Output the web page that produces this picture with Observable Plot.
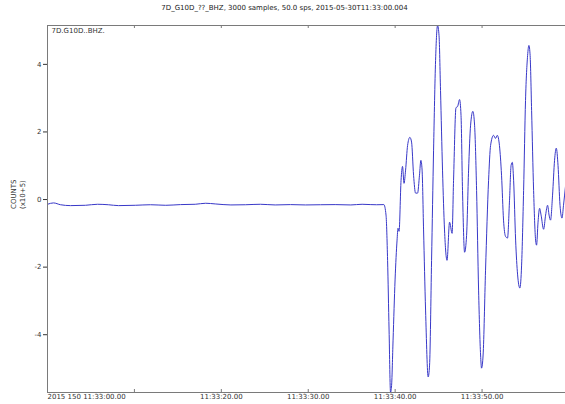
<!DOCTYPE html>
<html>
<head>
<meta charset="utf-8">
<script src="https://cdn.jsdelivr.net/npm/d3@7"></script>
<script src="https://cdn.jsdelivr.net/npm/@observablehq/plot@0.6"></script>
<style>
  html, body { margin: 0; padding: 0; background: #fff; }
  body { width: 565px; height: 404px; overflow: hidden; font-family: "DejaVu Sans", sans-serif; }
  #title { height: 17px; box-sizing: border-box; padding-top: 4px; padding-left: 4px; font-size: 7px; line-height: 9px; text-align: center; color: #222; }
  svg { display: block; }
</style>
</head>
<body>
<div id="title">7D_G10D_??_BHZ, 3000 samples, 50.0 sps, 2015-05-30T11:33:00.004</div>
<div id="chart"></div>
<script>
// seconds after 2015-05-30T11:33:00
const times = [
  0, 0.69, 1.5, 2.65, 4.37, 5.75, 7.0, 8.17, 10.1, 11.85, 13.6, 15.3, 17.0, 18.2, 19.3,
  21.1, 22.8, 24.5, 26.2, 27.96, 29.7, 31.4, 33.1, 34.9, 36.2, 37.2, 37.86, 38.7,
  38.95, 39.13, 39.3, 39.47, 39.59, 39.76, 39.99, 40.22, 40.33, 40.45, 40.68, 40.85,
  41.02, 41.2, 41.43, 41.69, 41.89, 42.12, 42.35, 42.58, 42.8, 42.96, 43.1, 43.27,
  43.5, 43.8, 43.96, 44.19, 44.42, 44.65, 44.88, 45.05, 45.22, 45.45, 45.68, 45.97,
  46.26, 46.55, 46.72, 47.0, 47.18, 47.41, 47.58, 47.75, 47.99, 48.22, 48.45, 48.68,
  48.94, 49.14, 49.37, 49.6, 49.83, 49.94, 50.12, 50.4, 50.75, 50.98, 51.32, 51.55,
  51.75, 52.0, 52.24, 52.47, 52.7, 52.93, 53.16, 53.34, 53.48, 53.63, 53.86, 54.09,
  54.35, 54.55, 54.78, 55.0, 55.24, 55.39, 55.53, 55.7, 55.93, 56.16, 56.27, 56.44,
  56.62, 56.79, 57.08, 57.31, 57.54, 57.71, 57.88, 58.11, 58.34, 58.54, 58.74, 58.97,
  59.2, 59.37, 59.6
];
// counts in units of 1e5
const counts = [
  -0.14, -0.10, -0.154, -0.18, -0.17, -0.14, -0.154, -0.18, -0.17, -0.154, -0.17, -0.15, -0.14, -0.11, -0.13,
  -0.16, -0.154, -0.14, -0.16, -0.15, -0.16, -0.154, -0.15, -0.16, -0.14, -0.15, -0.154, -0.15,
  -0.46, -1.8, -3.86, -5.71, -5.5, -4.16, -2.38, -1.2, -0.85, -0.94, 0.57, 0.98,
  0.48, 0.87, 1.6, 1.84, 1.7, 0.72, 0.19, 0.19, 0.72, 1.16, 0.87, -0.9,
  -3.27, -5.25, -4.9, -1.8, 1.46, 4.11, 5.15, 4.85, 3.23, 0.87, -0.9, -1.8,
  -0.67, -1.0, 0.57, 2.72, 2.75, 2.96, 2.49, 0.27, -1.56, -1.06, 0.87, 2.2,
  2.61, 2.2, 0.27, -2.68, -4.6, -4.99, -4.6, -2.09, 0.57, 1.6, 1.9, 1.81,
  1.9, 1.6, 0.72, -0.61, -1.09, -1.14, -0.02, 1.01, 1.1, 0.57, -1.2, -2.23,
  -2.62, -1.94, 0.27, 2.93, 4.26, 4.56, 4.26, 2.64, 0.27, -1.2, -1.35, -0.67,
  -0.26, -0.46, -0.88, -0.46, -0.17, -0.46, -0.61, 0.13, 1.16, 1.52, 1.01, -0.17,
  -0.55, -0.17, 0.39
];
const tickSeconds = [0, 10, 20, 30, 40, 50];
const tickLabels = ["2015 150 11:33:00.00", "", "11:33:20.00", "11:33:30.00", "11:33:40.00", "11:33:50.00"];
const yTicks = [-4, -2, 0, 2, 4];
const stationLabel = "7D.G10D..BHZ.";
const yLabel = ["COUNTS", "(x10+5)"];

const rows = times.map((t, i) => ({t, v: counts[i]}));
const xDomain = [0, 59.6];
const yDomain = [d3.min(counts), d3.max(counts)];

const W = 565, H = 387, mT = 8, mB = 12, mL = 47, mR = 0;
const frameH = H - mT - mB;
const axisColor = "#7a7a7a";
const textColor = "#333";
const ticks = tickSeconds.slice(1);

const chart = Plot.plot({
  width: W, height: H,
  marginTop: mT, marginBottom: mB, marginLeft: mL, marginRight: mR,
  style: {fontFamily: "DejaVu Sans, sans-serif", fontSize: "7px", color: textColor, background: "#fff"},
  x: {domain: xDomain, axis: null},
  y: {domain: yDomain, ticks: yTicks, tickSize: 4, tickPadding: 2, tickFormat: d => String(d), label: null},
  marks: [
    Plot.line(rows, {x: "t", y: "v", stroke: "#3838c8", strokeWidth: 1, curve: "monotone-x", clip: true}),
    Plot.ruleY([yDomain[1]], {stroke: axisColor, strokeWidth: 1}),
    Plot.ruleY([yDomain[0]], {stroke: axisColor, strokeWidth: 1}),
    Plot.ruleX([xDomain[0]], {stroke: axisColor, strokeWidth: 1}),
    Plot.tickX(ticks, {x: d => d, insetTop: frameH - 3, stroke: axisColor}),
    Plot.tickX(ticks, {x: d => d, insetBottom: frameH - 3, stroke: axisColor}),
    Plot.text(tickSeconds.filter((d, i) => i === 0), {x: d => d, text: (d) => tickLabels[tickSeconds.indexOf(d)], frameAnchor: "bottom", lineAnchor: "top", dy: 2, textAnchor: "start", fill: textColor}),
    Plot.text(tickSeconds.filter((d, i) => i > 0 && tickLabels[i]), {x: d => d, text: (d) => tickLabels[tickSeconds.indexOf(d)], frameAnchor: "bottom", lineAnchor: "top", dy: 2, textAnchor: "middle", fill: textColor}),
    Plot.text([stationLabel], {frameAnchor: "top-left", dx: 4, dy: 3, lineAnchor: "top", textAnchor: "start", fill: textColor}),
    Plot.text([yLabel[0]], {frameAnchor: "left", dx: -34, rotate: -90, fill: textColor}),
    Plot.text([yLabel[1]], {frameAnchor: "left", dx: -25, rotate: -90, fill: textColor})
  ]
});
document.getElementById("chart").appendChild(chart);
</script>
</body>
</html>
